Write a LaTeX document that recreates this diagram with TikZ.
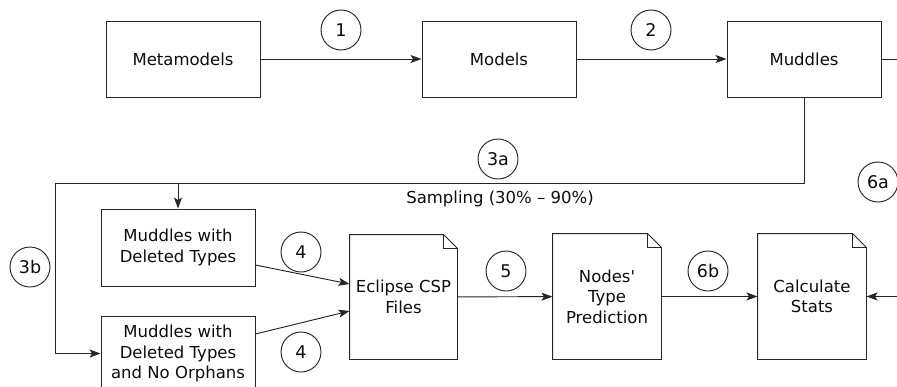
\documentclass[tikz,border=0pt]{standalone}
\usepackage{fontspec}
\newfontfamily\diafont{DejaVu Sans}
\usetikzlibrary{arrows.meta,calc}
\tikzset{
  box/.style={draw, minimum width=154pt, minimum height=76pt, inner sep=0pt, align=center},
  docbox/.style={minimum width=#1, minimum height=125pt, inner sep=0pt, align=center},
  num/.style={draw, circle, minimum size=40pt, inner sep=0pt, font=\diafont\fontsize{17.5}{20.5}\selectfont},
  arr/.style={-{Stealth[length=11pt,width=8pt,inset=2.5pt]}},
  txt/.style={font=\diafont\fontsize{16.5}{20.5}\selectfont}
}
\newcommand{\docshape}[1]{%
  \draw (#1.south west) -- (#1.north west) -- ([xshift=-14pt]#1.north east)
    -- ([yshift=-14pt]#1.north east) -- (#1.south east) -- cycle;
  \draw ([xshift=-14pt]#1.north east) |- ([yshift=-14pt]#1.north east);}
\begin{document}
\begin{tikzpicture}[x=1pt,y=-1pt,line width=0.95pt,txt,draw={black!85},text=black!95]
\useasboundingbox (0,0) rectangle (897,386);
\clip (0,0) rectangle (897,386);
% top row
\node[box] (meta) at (183,59) {Metamodels};
\node[box] (models) at (499,59) {Models};
\node[box] (muddles) at (804,59) {Muddles};
\node[num] (n1) at (341,30) {1};
\node[num] (n2) at (651,30) {2};
% lower boxes
\node[box, minimum height=77pt] (del) at (178,247.5) {Muddles with\\Deleted Types};
\node[box, minimum height=75pt] (orph) at (178,353.5) {Muddles with\\Deleted Types\\and No Orphans};
\node[docbox=107pt, minimum height=124pt] (ecl) at (403.5,297) {Eclipse CSP\\Files};
\node[docbox=108pt] (pred) at (607,296.5) {Nodes'\\Type\\Prediction};
\node[docbox=108pt] (calc) at (812,296.5) {Calculate\\Stats};
\docshape{ecl}
\docshape{pred}
\docshape{calc}
% numbers
\node[num] (n3a) at (498,159) {3a};
\node[num] (n3b) at (30,267) {3b};
\node[num] (n4a) at (301,252) {4};
\node[num] (n4b) at (301,352) {4};
\node[num] (n5) at (506,271) {5};
\node[num] (n6b) at (708,271) {6b};
\node[num] (n6a) at (878,182) {6a};
\node (samp) at (500,199) {Sampling (30\% – 90\%)};
% connectors
\draw[arr] (meta) -- (models);
\draw[arr] (models) -- (muddles);
\coordinate (turn) at (55,183);
\coordinate (far) at (930,59);
\draw[arr] (muddles.south) |- (turn) |- (orph.west);
\draw[arr] (del.north |- turn) -- (del.north);
\draw[arr] (muddles.east) -- (far) |- (calc.east);
\draw[arr] ([yshift=-17.5pt]del.east) -- ([yshift=13pt]ecl.west);
\draw[arr] ([yshift=19.5pt]orph.east) -- ([yshift=-14pt]ecl.west);
\draw[arr] (ecl) -- (pred);
\draw[arr] (pred) -- (calc);
\end{tikzpicture}
\end{document}
